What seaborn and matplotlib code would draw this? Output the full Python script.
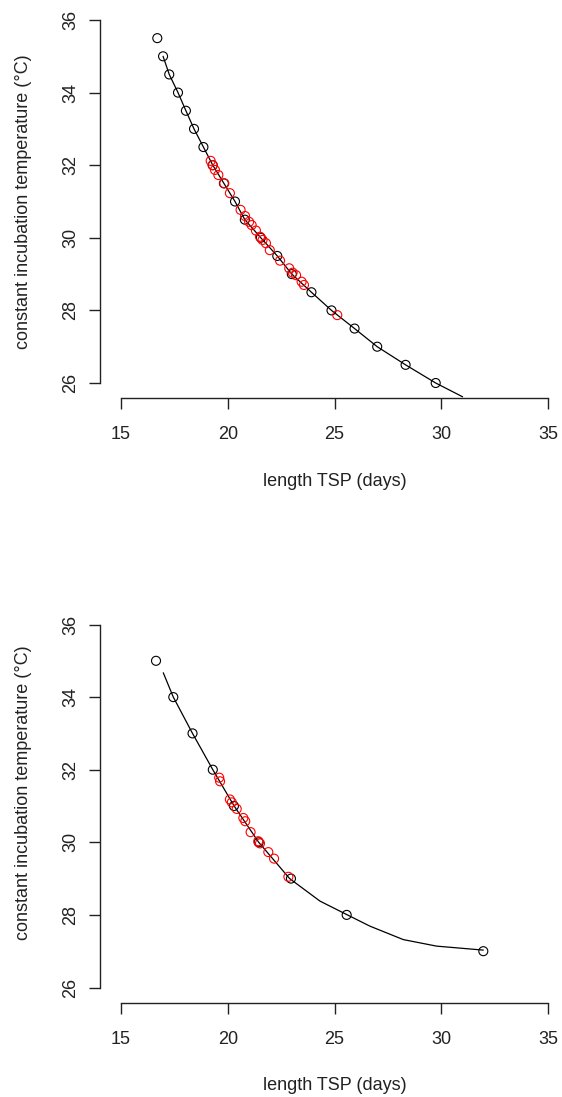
import seaborn as sns
import matplotlib.pyplot as plt

# ---- top panel ----
top_black_x = [16.70, 16.97, 17.26, 17.67, 18.04, 18.42, 18.86, 19.30, 19.82, 20.34,
               20.80, 21.55, 22.32, 23.00, 23.92, 24.86, 25.94, 27.00, 28.33, 29.74]
top_black_y = [35.5, 35.0, 34.5, 34.0, 33.5, 33.0, 32.5, 32.0, 31.5, 31.0,
               30.5, 30.0, 29.5, 29.0, 28.5, 28.0, 27.5, 27.0, 26.5, 26.0]
top_red_x = [19.20, 19.29, 19.40, 19.56, 19.84, 20.10, 20.60, 20.81, 21.00, 21.12,
             21.32, 21.51, 21.63, 21.79, 21.97, 22.45, 22.88, 23.04, 23.20, 23.46,
             23.57, 25.13]
top_red_y = [32.12, 32.00, 31.87, 31.73, 31.50, 31.23, 30.77, 30.60, 30.44, 30.35,
             30.20, 30.03, 29.94, 29.85, 29.66, 29.37, 29.16, 29.04, 28.97, 28.79,
             28.70, 27.87]
top_line_x = [16.97, 17.26, 17.67, 18.04, 18.42, 18.86, 19.30, 19.82, 20.34, 20.80,
              21.55, 22.32, 23.00, 23.92, 24.86, 25.94, 27.00, 28.33, 29.74, 31.00]
top_line_y = [35.0, 34.5, 34.0, 33.5, 33.0, 32.5, 32.0, 31.5, 31.0, 30.5,
              30.0, 29.5, 29.0, 28.5, 28.0, 27.5, 27.0, 26.5, 26.0, 25.62]

# ---- bottom panel ----
bot_black_x = [16.64, 17.45, 18.35, 19.30, 20.29, 21.45, 22.96, 25.57, 31.97]
bot_black_y = [35.0, 34.0, 33.0, 32.0, 31.0, 30.0, 29.0, 28.0, 27.0]
bot_red_x = [19.60, 19.64, 20.10, 20.19, 20.42, 20.73, 20.82, 21.07, 21.43, 21.51,
             21.90, 22.17, 22.84]
bot_red_y = [31.78, 31.68, 31.18, 31.10, 30.92, 30.67, 30.58, 30.28, 30.03, 29.97,
             29.73, 29.55, 29.05]
bot_line_x = [16.98, 17.45, 18.35, 19.30, 20.30, 21.45, 22.90, 24.32, 25.57, 26.66,
              28.22, 29.78, 31.97]
bot_line_y = [34.67, 34.00, 33.00, 32.00, 31.00, 30.00, 29.00, 28.38, 28.01, 27.69,
              27.32, 27.14, 27.03]

x_ticks = [15, 20, 25, 30, 35]
y_ticks = [26, 28, 30, 32, 34, 36]
xlab = "length TSP (days)"
ylab = "constant incubation temperature (°C)"

sns.set_style("ticks")
plt.rcParams['font.family'] = ['Liberation Sans', 'DejaVu Sans']

W, H = 562, 1097
fig = plt.figure(figsize=(W / 100, H / 100), dpi=100)


def panel(top_px, line_x, line_y, bx, by, rx, ry, ylab_pos):
    ax = fig.add_axes([121 / W, (H - top_px - 363) / H, 427 / W, 363 / H])
    sns.lineplot(x=line_x, y=line_y, ax=ax, color='black', lw=0.9,
                 sort=False, estimator=None, clip_on=False)
    sns.scatterplot(x=bx, y=by, ax=ax, marker='o', s=42, facecolor='none',
                    edgecolor='black', linewidth=0.8, clip_on=False, zorder=3)
    sns.scatterplot(x=rx, y=ry, ax=ax, marker='o', s=42, facecolor='none',
                    edgecolor='red', linewidth=0.8, clip_on=False, zorder=4)
    ax.set_xlim(15, 35)
    ax.set_ylim(26, 36)
    ax.set_xticks(x_ticks)
    ax.set_yticks(y_ticks)
    sns.despine(ax=ax, offset={'left': 15, 'bottom': 11}, trim=True)
    for s in ('left', 'bottom'):
        ax.spines[s].set_linewidth(1.0)
        ax.spines[s].set_color('#222222')
    ax.tick_params(axis='both', length=8, width=1.0, color='#222222',
                   labelsize=13, labelcolor='#222222')
    ax.tick_params(axis='x', pad=12)
    ax.tick_params(axis='y', pad=7)
    for lab in ax.get_yticklabels():
        lab.set_rotation(90)
        lab.set_va('center')
    ax.set_xlabel(xlab, fontsize=13, color='#222222')
    ax.set_ylabel(ylab, fontsize=13, color='#222222')
    ax.xaxis.label.set_va('center')
    ax.yaxis.label.set_va('center')
    ax.xaxis.set_label_coords(0.5, -98 / 363)
    ax.yaxis.set_label_coords(-(121 - 24) / 427, ylab_pos)
    return ax


panel(20, top_line_x, top_line_y, top_black_x, top_black_y,
      top_red_x, top_red_y, 0.5)
panel(624.5, bot_line_x, bot_line_y, bot_black_x, bot_black_y,
      bot_red_x, bot_red_y, 0.536)

fig.savefig("out.png", dpi=100)
